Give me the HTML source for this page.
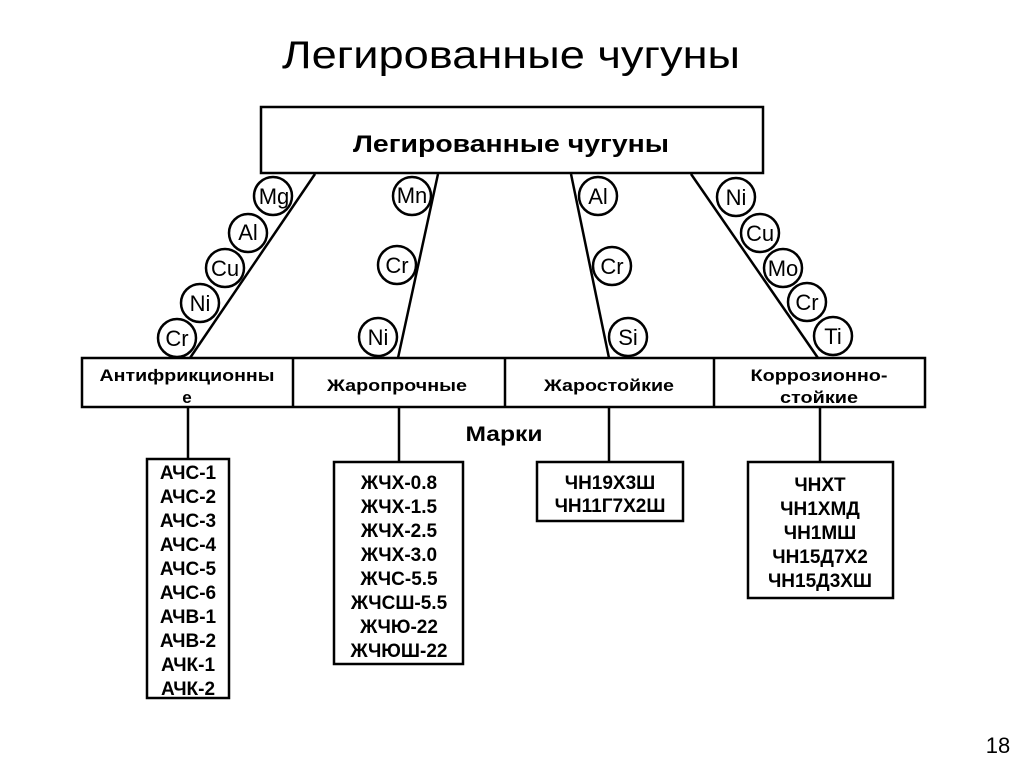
<!DOCTYPE html>
<html><head><meta charset="utf-8"><style>
html,body{margin:0;padding:0;background:#fff;}
svg{display:block;}
text{font-family:"Liberation Sans","DejaVu Sans",sans-serif;fill:#000;}
.b{font-weight:bold;}
.c{font-size:22px;text-anchor:middle;}
.l{font-size:17px;font-weight:bold;text-anchor:middle;}
.h{font-size:19px;font-weight:bold;text-anchor:middle;}
</style></head><body>
<svg width="1024" height="767" viewBox="0 0 1024 767" xmlns="http://www.w3.org/2000/svg">
<text x="511" y="68" font-size="39" text-anchor="middle" textLength="458" lengthAdjust="spacingAndGlyphs">Легированные чугуны</text>
<g fill="none" stroke="#000" stroke-width="2.5">
<rect x="261" y="107" width="502" height="66" fill="#fff"/>
<line x1="315" y1="174" x2="190" y2="358"/>
<line x1="438" y1="174" x2="398" y2="358"/>
<line x1="571" y1="174" x2="609" y2="358"/>
<line x1="691" y1="174" x2="818" y2="358"/>
<rect x="82" y="358" width="843" height="49"/>
<line x1="293" y1="358" x2="293" y2="407"/>
<line x1="505" y1="358" x2="505" y2="407"/>
<line x1="714" y1="358" x2="714" y2="407"/>
<line x1="188" y1="407" x2="188" y2="459"/>
<line x1="399" y1="407" x2="399" y2="462"/>
<line x1="609" y1="407" x2="609" y2="462"/>
<line x1="820" y1="407" x2="820" y2="462"/>
<rect x="147" y="459" width="82" height="239"/>
<rect x="334" y="462" width="129" height="202"/>
<rect x="537" y="462" width="146" height="59"/>
<rect x="748" y="462" width="145" height="136"/>
</g>
<text x="511" y="152" class="b" font-size="24" text-anchor="middle" textLength="316" lengthAdjust="spacingAndGlyphs">Легированные чугуны</text>
<g fill="#fff" stroke="#000" stroke-width="2.5">
<circle cx="273" cy="196" r="19"/><circle cx="248" cy="233" r="19"/><circle cx="225" cy="268" r="19"/><circle cx="200" cy="303" r="19"/><circle cx="177" cy="338" r="19"/>
<circle cx="412" cy="196" r="19"/><circle cx="397" cy="265" r="19"/><circle cx="378" cy="337" r="19"/>
<circle cx="598" cy="196" r="19"/><circle cx="612" cy="266" r="19"/><circle cx="628" cy="337" r="19"/>
<circle cx="736" cy="197" r="19"/><circle cx="760" cy="233" r="19"/><circle cx="783" cy="268" r="19"/><circle cx="807" cy="302" r="19"/><circle cx="833" cy="336" r="19"/>
</g>
<text class="c" x="274" y="204">Mg</text><text class="c" x="248" y="240">Al</text><text class="c" x="225" y="276">Cu</text><text class="c" x="200" y="311">Ni</text><text class="c" x="177" y="346">Cr</text>
<text class="c" x="412" y="203">Mn</text><text class="c" x="397" y="273">Cr</text><text class="c" x="378" y="345">Ni</text>
<text class="c" x="598" y="204">Al</text><text class="c" x="612" y="274">Cr</text><text class="c" x="628" y="345">Si</text>
<text class="c" x="736" y="205">Ni</text><text class="c" x="760" y="241">Cu</text><text class="c" x="783" y="276">Mo</text><text class="c" x="807" y="310">Cr</text><text class="c" x="833" y="344">Ti</text>
<text class="l" x="187" y="381" textLength="175" lengthAdjust="spacingAndGlyphs">Антифрикционны</text>
<text class="l" x="187" y="403">е</text>
<text class="l" x="397" y="391" textLength="140" lengthAdjust="spacingAndGlyphs">Жаропрочные</text>
<text class="l" x="609" y="391" textLength="130" lengthAdjust="spacingAndGlyphs">Жаростойкие</text>
<text class="l" x="819" y="381" textLength="137" lengthAdjust="spacingAndGlyphs">Коррозионно-</text>
<text class="l" x="819" y="403" textLength="78" lengthAdjust="spacingAndGlyphs">стойкие</text>
<text x="504" y="441" class="b" font-size="21" text-anchor="middle" textLength="77" lengthAdjust="spacingAndGlyphs">Марки</text>
<text class="h" x="188" y="479">АЧС-1</text><text class="h" x="188" y="503">АЧС-2</text><text class="h" x="188" y="527">АЧС-3</text><text class="h" x="188" y="551">АЧС-4</text><text class="h" x="188" y="575">АЧС-5</text><text class="h" x="188" y="599">АЧС-6</text><text class="h" x="188" y="623">АЧВ-1</text><text class="h" x="188" y="647">АЧВ-2</text><text class="h" x="188" y="671">АЧК-1</text><text class="h" x="188" y="695">АЧК-2</text>
<text class="h" x="399" y="489">ЖЧХ-0.8</text><text class="h" x="399" y="513">ЖЧХ-1.5</text><text class="h" x="399" y="537">ЖЧХ-2.5</text><text class="h" x="399" y="561">ЖЧХ-3.0</text><text class="h" x="399" y="585">ЖЧС-5.5</text><text class="h" x="399" y="609">ЖЧСШ-5.5</text><text class="h" x="399" y="633">ЖЧЮ-22</text><text class="h" x="399" y="657">ЖЧЮШ-22</text>
<text class="h" x="610" y="489">ЧН19Х3Ш</text><text class="h" x="610" y="512">ЧН11Г7Х2Ш</text>
<text class="h" x="820" y="491">ЧНХТ</text><text class="h" x="820" y="515">ЧН1ХМД</text><text class="h" x="820" y="539">ЧН1МШ</text><text class="h" x="820" y="563">ЧН15Д7Х2</text><text class="h" x="820" y="587">ЧН15Д3ХШ</text>
<text x="998" y="753" font-size="22" text-anchor="middle">18</text>
</svg>
</body></html>
